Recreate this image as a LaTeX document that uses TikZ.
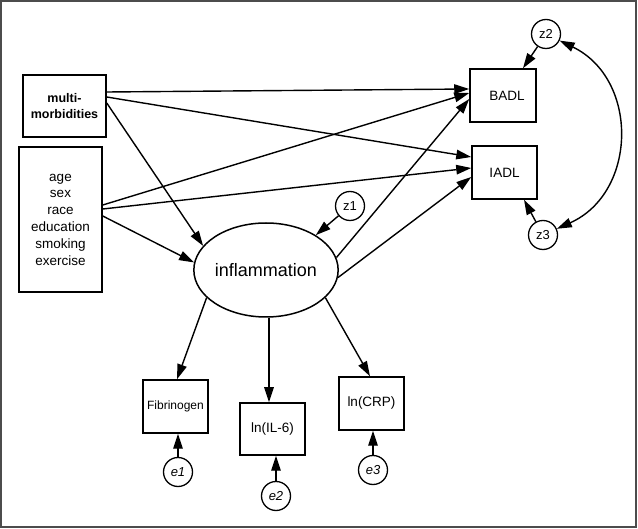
\documentclass[tikz,border=0pt]{standalone}
\usepackage{fontspec}
\setmainfont{Liberation Sans}
\usetikzlibrary{arrows.meta,shapes.geometric}
\begin{document}
\begin{tikzpicture}[x=1pt,y=-1pt,
  box/.style={draw,line width=1.5pt,minimum width=#1,inner sep=0pt,align=center},
  oval/.style={draw,ellipse,line width=1.5pt,inner sep=0pt,minimum width=141pt,minimum height=94pt},
  err/.style={draw,circle,line width=1.3pt,minimum size=29pt,inner sep=0pt,font=\fontsize{13}{13}\selectfont},
  arr/.style={line width=1.4pt,-{Triangle[length=15pt,width=9.5pt]}},
  dblarr/.style={line width=1.4pt,{Triangle[length=15pt,width=9.5pt]}-{Triangle[length=15pt,width=9.5pt]}}]
\useasboundingbox (0,0) rectangle (638,529);
\draw[line width=1.5pt,black!70] (1,1) rectangle (636,527);

\node[box=83pt,minimum height=62pt,font=\fontsize{12.5}{16}\selectfont\bfseries] (multi) at (64.5,106) {multi-\\morbidities};
\node[box=83pt,minimum height=145pt,font=\fontsize{13.5}{16.8}\selectfont] (cov) at (60.5,219.5) {age\\sex\\race\\education\\smoking\\exercise};
\node[box=66pt,minimum height=53pt,font=\fontsize{13.5}{16}\selectfont] (badl) at (503,95.5) {\hspace*{8pt}BADL};
\node[box=65pt,minimum height=53pt,font=\fontsize{13.5}{16}\selectfont] (iadl) at (504.5,172.5) {IADL};
\node[oval,font=\fontsize{18}{20}\selectfont] (infl) at (266,270) {inflammation};
\node[box=65pt,minimum height=53pt,font=\fontsize{12}{14}\selectfont] (fib) at (175.5,406.5) {Fibrinogen};
\node[box=65pt,minimum height=52pt,font=\fontsize{13.5}{16}\selectfont] (il6) at (272.5,429) {ln(IL-6)};
\node[box=65pt,minimum height=53pt,font=\fontsize{13.5}{16}\selectfont] (crp) at (371.5,403.5) {\raisebox{4pt}{ln(CRP)}};

\node[err] (z1) at (350,206) {z1};
\node[err] (z2) at (546,34) {z2};
\node[err] (z3) at (543,235) {z3};
\node[err,font=\fontsize{13}{13}\selectfont\itshape] (e1) at (178,472) {e1};
\node[err,font=\fontsize{13}{13}\selectfont\itshape] (e2) at (276,496) {e2};
\node[err,font=\fontsize{13}{13}\selectfont\itshape] (e3) at (373,470) {e3};

% from multi-morbidities
\draw[arr] ([yshift=14pt]multi.east) -- ([yshift=6.5pt]badl.west);
\draw[arr] ([yshift=9pt]multi.east) -- ([yshift=15.5pt]iadl.west);
\draw[arr] ([yshift=3pt]multi.east) -- (infl.159);
% from covariates
\draw[arr] ([yshift=14.5pt]cov.east) -- ([yshift=2.5pt]badl.west);
\draw[arr] ([yshift=10.5pt]cov.east) -- ([yshift=4.5pt]iadl.west);
\draw[arr] ([yshift=3.5pt]cov.east) -- (infl.174);
% from inflammation
\draw[arr] (infl.10) -- ([yshift=-3.5pt]badl.west);
\draw[arr] (infl.354) -- ([yshift=-4.5pt]iadl.west);
\draw[arr] (infl.205) -- ([xshift=1.5pt]fib.north);
\draw[arr] ([xshift=-3.5pt]il6.north |- infl.south) -- ([xshift=-3.5pt]il6.north);
\draw[arr] (infl.335) -- ([xshift=-1.5pt]crp.north);
% disturbances
\draw[arr] (z1) -- (infl.35);
\draw[arr] (z2) -- ([xshift=20pt]badl.north);
\draw[arr] (z3) -- ([xshift=19.5pt]iadl.south);
\draw[dblarr] (z2) to[bend left=65,looseness=1.2] (z3);
\draw[arr] (e1.north) -- (e1.north |- fib.south);
\draw[arr] (e2.north) -- (e2.north |- il6.south);
\draw[arr] (e3.north) -- (e3.north |- crp.south);
\end{tikzpicture}
\end{document}
